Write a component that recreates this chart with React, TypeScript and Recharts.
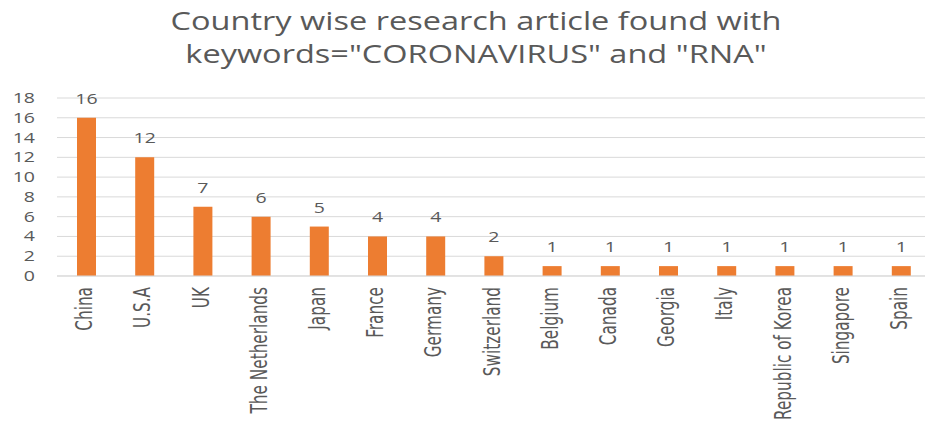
import React from "react";
import { BarChart, Bar, XAxis, YAxis, CartesianGrid, LabelList } from "recharts";

const countries = [
  "China",
  "U.S.A",
  "UK",
  "The Netherlands",
  "Japan",
  "France",
  "Germany",
  "Switzerland",
  "Belgium",
  "Canada",
  "Georgia",
  "Italy",
  "Republic of Korea",
  "Singapore",
  "Spain",
];
const articles = [16, 12, 7, 6, 5, 4, 4, 2, 1, 1, 1, 1, 1, 1, 1];
const yTicks = [0, 2, 4, 6, 8, 10, 12, 14, 16, 18];

const data = countries.map((country, i) => ({ country, articles: articles[i] }));

const GREY = "#595959";
const STRETCH = 1.3; // the source image is widened horizontally
const TITLE_FONT = "'Open Sans', 'DejaVu Sans', sans-serif";
const NARROW_FONT = "'Liberation Sans Narrow', 'DejaVu Sans Condensed', 'Roboto', sans-serif";

const CountryTick = ({ x, y, payload }: any) => (
  <text
    x={0}
    y={0}
    transform={`translate(${x + 6},${y + 3}) scale(${STRETCH},1) rotate(-90)`}
    textAnchor="end"
    fill={GREY}
    fontSize={17}
    fontFamily={NARROW_FONT}
  >
    {payload.value}
  </text>
);

const ValueTick = ({ x, y, payload }: any) => (
  <text
    x={0}
    y={0}
    dy={5}
    transform={`translate(35,${y}) scale(${STRETCH},1)`}
    textAnchor="end"
    fill={GREY}
    fontSize={15}
    fontFamily={TITLE_FONT}
  >
    {payload.value}
  </text>
);

const BarValue = ({ x, y, width, value }: any) => (
  <text
    x={0}
    y={0}
    transform={`translate(${x + width / 2},${y - 14}) scale(${STRETCH},1)`}
    textAnchor="middle"
    fill={GREY}
    fontSize={15}
    fontFamily={TITLE_FONT}
  >
    {value}
  </text>
);

export default function App() {
  return (
    <div
      style={{
        position: "absolute",
        left: 0,
        top: 0,
        width: 925,
        height: 421,
        overflow: "hidden",
        background: "#fff",
      }}
    >
      <div
        style={{
          position: "absolute",
          left: 0,
          top: 4,
          width: 952,
          textAlign: "center",
          fontFamily: TITLE_FONT,
          fontSize: 25,
          lineHeight: "33px",
          color: GREY,
          transform: `scaleX(${STRETCH})`,
          transformOrigin: "476px 0",
        }}
      >
        Country wise research article found with
        <br />
        keywords="CORONAVIRUS" and "RNA"
      </div>
      <BarChart
        width={935}
        height={421}
        data={data}
        margin={{ top: 98, right: 5, bottom: 0, left: 0 }}
        barCategoryGap={0}
      >
        <CartesianGrid vertical={false} stroke="#d9d9d9" />
        <XAxis
          dataKey="country"
          interval={0}
          height={145}
          tickLine={false}
          axisLine={{ stroke: "#d9d9d9" }}
          tick={<CountryTick />}
        />
        <YAxis
          width={57}
          domain={[0, 18]}
          ticks={yTicks}
          interval={0}
          tickLine={false}
          axisLine={false}
          tick={<ValueTick />}
        />
        <Bar dataKey="articles" fill="#ED7D31" barSize={19} isAnimationActive={false}>
          <LabelList dataKey="articles" content={<BarValue />} />
        </Bar>
      </BarChart>
    </div>
  );
}
